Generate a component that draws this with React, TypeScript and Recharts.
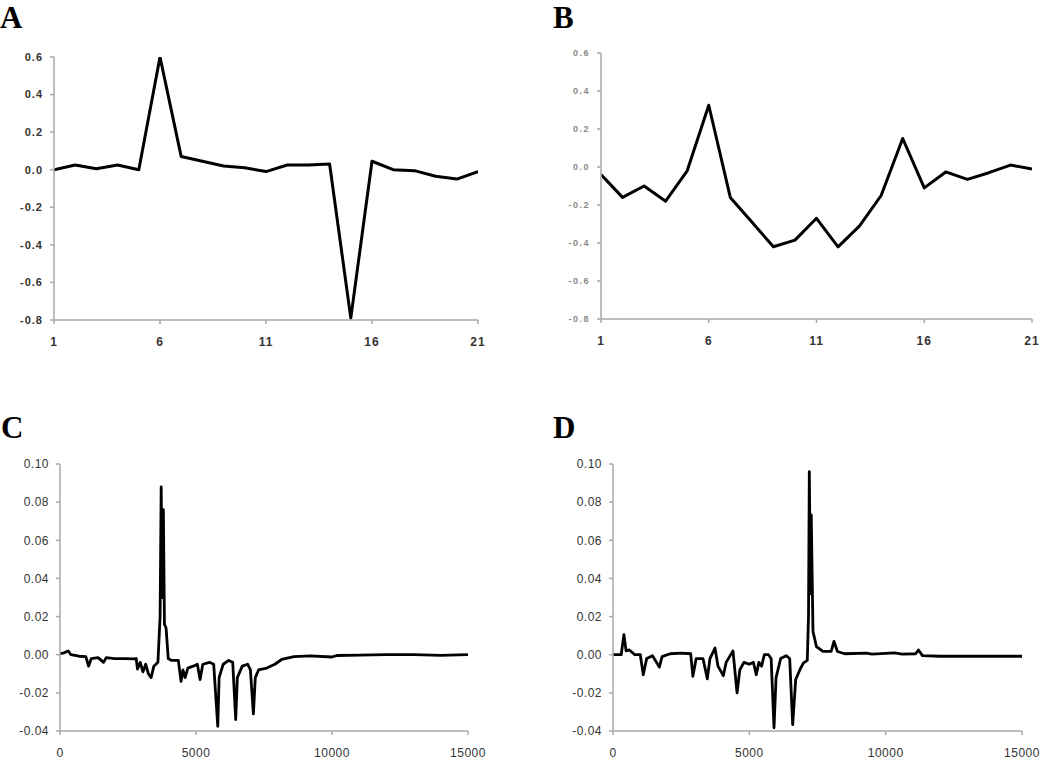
import React from 'react';
import { LineChart, Line, XAxis, YAxis } from 'recharts';

const xTicksAB = [1, 6, 11, 16, 21];
const yTicksAB = [-0.8, -0.6, -0.4, -0.2, 0, 0.2, 0.4, 0.6];
const xTicksCD = [0, 5000, 10000, 15000];
const yTicksCD = [-0.04, -0.02, 0, 0.02, 0.04, 0.06, 0.08, 0.1];

const positionsAB = [1, 2, 3, 4, 5, 6, 7, 8, 9, 10, 11, 12, 13, 14, 15, 16, 17, 18, 19, 20, 21];
const seriesA = [0.0, 0.025, 0.005, 0.025, 0.0, 0.6, 0.07, 0.045, 0.02, 0.01, -0.01, 0.025, 0.025, 0.03, -0.79, 0.045, 0.0, -0.005, -0.035, -0.05, -0.01];
const seriesB = [-0.04, -0.16, -0.1, -0.18, -0.02, 0.325, -0.16, -0.29, -0.42, -0.385, -0.27, -0.42, -0.31, -0.15, 0.15, -0.11, -0.026, -0.065, -0.03, 0.01, -0.01];

const positionsC = [0, 150, 300, 400, 700, 950, 1050, 1150, 1400, 1600, 1700, 2000, 2400, 2700, 2800, 2850, 2950, 3050, 3150, 3250, 3350, 3450, 3600, 3680, 3720, 3760, 3800, 3840, 3900, 3980, 4100, 4350, 4450, 4520, 4600, 4700, 4900, 5050, 5150, 5250, 5500, 5650, 5800, 5850, 6000, 6200, 6350, 6460, 6520, 6700, 6900, 7000, 7110, 7180, 7300, 7600, 7900, 8150, 8600, 9200, 9990, 10200, 11000, 12000, 13000, 14000, 15000];
const seriesC = [0.0005, 0.001, 0.002, 0.0, -0.0008, -0.001, -0.006, -0.002, -0.0015, -0.004, -0.0015, -0.002, -0.002, -0.0022, -0.002, -0.0075, -0.004, -0.009, -0.005, -0.01, -0.012, -0.006, -0.004, 0.02, 0.088, 0.03, 0.076, 0.016, 0.014, -0.002, -0.003, -0.003, -0.014, -0.008, -0.012, -0.007, -0.006, -0.005, -0.013, -0.005, -0.004, -0.005, -0.0375, -0.012, -0.005, -0.003, -0.004, -0.034, -0.012, -0.006, -0.005, -0.008, -0.031, -0.012, -0.008, -0.007, -0.005, -0.0025, -0.001, -0.0006, -0.0012, -0.0004, -0.0002, 0, 0, -0.0003, 0];

const positionsD = [0, 300, 400, 480, 600, 800, 1000, 1110, 1235, 1450, 1700, 1800, 2100, 2500, 2850, 2930, 3050, 3300, 3460, 3555, 3740, 3850, 4045, 4150, 4400, 4550, 4650, 4800, 5000, 5150, 5255, 5350, 5450, 5550, 5700, 5800, 5905, 5980, 6150, 6350, 6480, 6590, 6700, 6850, 6980, 7125, 7170, 7200, 7240, 7270, 7335, 7460, 7700, 8000, 8105, 8230, 8500, 9290, 9500, 10330, 10600, 11100, 11200, 11350, 12000, 13500, 15000];
const seriesD = [0, 0, 0.0105, 0.002, 0.0025, 0, 0, -0.0105, -0.002, -0.0005, -0.0065, -0.001, 0.0005, 0.0008, 0.0005, -0.0113, -0.002, -0.002, -0.0127, -0.002, 0.0035, -0.006, -0.011, -0.004, 0.002, -0.02, -0.008, -0.004, -0.005, -0.004, -0.0105, -0.004, -0.006, 0, 0, -0.002, -0.0383, -0.012, -0.002, -0.0005, -0.002, -0.0367, -0.013, -0.008, -0.0044, -0.003, 0.02, 0.096, 0.032, 0.0733, 0.0122, 0.0043, 0.0017, 0.0017, 0.007, 0.0017, 0.0005, 0.0008, 0.0003, 0.001, 0.0003, 0.0005, 0.0025, -0.0005, -0.0008, -0.0008, -0.0008];

const zip = (xs: number[], ys: number[]) => xs.map((x, i) => ({ x, y: ys[i] }));

const axisGrey = '#a8a8a8';

type PanelProps = {
  left: number; top: number; width: number; height: number;
  margin: { top: number; right: number; bottom: number; left: number };
  data: { x: number; y: number }[];
  xDomain: [number, number]; xTicks: number[];
  yDomain: [number, number]; yTicks: number[];
  yFmt: (v: number) => string;
  yTickStyle: any; xTickStyle: any;
  strokeWidth: number;
};

function Panel(p: PanelProps) {
  return (
    <div style={{ position: 'absolute', left: p.left, top: p.top }}>
      <LineChart width={p.width} height={p.height} data={p.data} margin={p.margin}>
        <XAxis
          type="number"
          dataKey="x"
          domain={p.xDomain}
          ticks={p.xTicks}
          allowDataOverflow
          height={30}
          tickSize={4}
          tickMargin={13}
          axisLine={{ stroke: axisGrey, strokeWidth: 1.5 }}
          tickLine={{ stroke: axisGrey, strokeWidth: 1.5 }}
          tick={p.xTickStyle}
          interval={0}
        />
        <YAxis
          type="number"
          dataKey="y"
          domain={p.yDomain}
          ticks={p.yTicks}
          allowDataOverflow
          width={40}
          tickSize={4}
          tickMargin={7}
          tickFormatter={p.yFmt}
          axisLine={{ stroke: axisGrey, strokeWidth: 1.5 }}
          tickLine={{ stroke: axisGrey, strokeWidth: 1.5 }}
          tick={p.yTickStyle}
          interval={0}
        />
        <Line
          type="linear"
          dataKey="y"
          stroke="#000"
          strokeWidth={p.strokeWidth}
          dot={false}
          isAnimationActive={false}
          strokeLinejoin="round"
        />
      </LineChart>
    </div>
  );
}

const letterStyle = (left: number, top: number): React.CSSProperties => ({
  position: 'absolute', left, top, fontFamily: '"Liberation Serif", "Times New Roman", serif',
  fontWeight: 'bold', fontSize: 31, lineHeight: '35px', color: '#000',
});

const darkTick = { fill: '#333', fontSize: 11, fontWeight: 'bold', fontFamily: '"Liberation Sans", Arial, sans-serif', letterSpacing: 1 };
const lightTick = { fill: '#888', fontSize: 9, fontWeight: 'bold', fontFamily: '"Liberation Sans", Arial, sans-serif', letterSpacing: 1.5 };
const xTickAB = { fill: '#333', fontSize: 12, fontWeight: 'bold', fontFamily: '"Liberation Sans", Arial, sans-serif', letterSpacing: 1 };
const cdTick = { fill: '#333', fontSize: 12, fontFamily: '"Liberation Sans", Arial, sans-serif', letterSpacing: 0.5 };

export default function App() {
  const f1 = (v: number) => v.toFixed(1);
  const f2 = (v: number) => v.toFixed(2);
  return (
    <div style={{ position: 'absolute', left: 0, top: 0, width: 1050, height: 767, background: '#fff', overflow: 'hidden' }}>
      <div style={letterStyle(0, 0)}>A</div>
      <div style={letterStyle(553, 0)}>B</div>
      <div style={letterStyle(1, 410)}>C</div>
      <div style={letterStyle(553, 410)}>D</div>
      <Panel left={0} top={0} width={520} height={360}
        margin={{ top: 57, right: 42, bottom: 10, left: 14 }}
        data={zip(positionsAB, seriesA)} xDomain={[1, 21]} xTicks={xTicksAB}
        yDomain={[-0.8, 0.6]} yTicks={yTicksAB} yFmt={f1}
        yTickStyle={darkTick} xTickStyle={xTickAB} strokeWidth={3} />
      <Panel left={520} top={0} width={530} height={360}
        margin={{ top: 53, right: 18, bottom: 11, left: 41 }}
        data={zip(positionsAB, seriesB)} xDomain={[1, 21]} xTicks={xTicksAB}
        yDomain={[-0.8, 0.6]} yTicks={yTicksAB} yFmt={f1}
        yTickStyle={lightTick} xTickStyle={xTickAB} strokeWidth={3} />
      <Panel left={0} top={400} width={520} height={367}
        margin={{ top: 64, right: 52, bottom: 6, left: 20 }}
        data={zip(positionsC, seriesC)} xDomain={[0, 15000]} xTicks={xTicksCD}
        yDomain={[-0.04, 0.1]} yTicks={yTicksCD} yFmt={f2}
        yTickStyle={cdTick} xTickStyle={cdTick} strokeWidth={2.8} />
      <Panel left={520} top={400} width={530} height={367}
        margin={{ top: 64, right: 28, bottom: 6, left: 53 }}
        data={zip(positionsD, seriesD)} xDomain={[0, 15000]} xTicks={xTicksCD}
        yDomain={[-0.04, 0.1]} yTicks={yTicksCD} yFmt={f2}
        yTickStyle={cdTick} xTickStyle={cdTick} strokeWidth={2.8} />
    </div>
  );
}
